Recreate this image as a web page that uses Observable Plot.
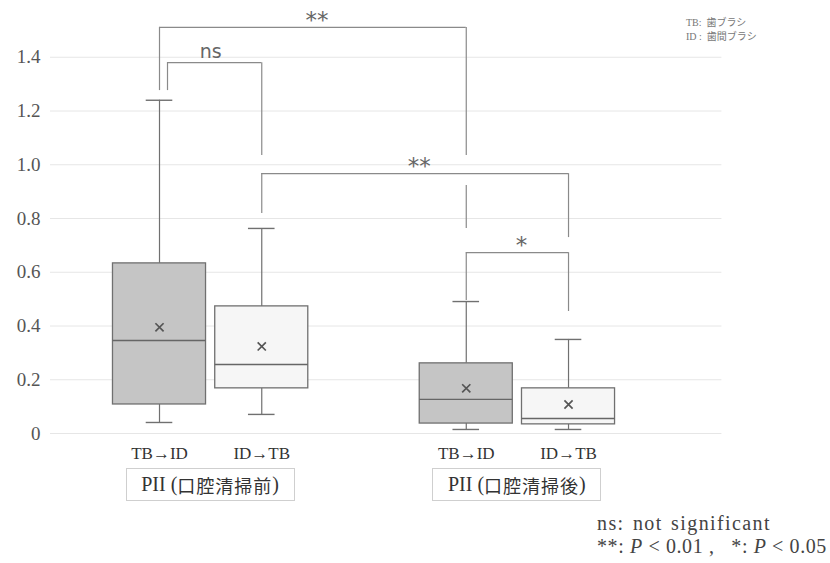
<!DOCTYPE html>
<html>
<head>
<meta charset="utf-8">
<script src="https://cdn.jsdelivr.net/npm/d3@7"></script>
<script src="https://cdn.jsdelivr.net/npm/@observablehq/plot@0.6"></script>
<style>
  html, body { margin: 0; padding: 0; background: #fff; }
  #wrap { position: relative; width: 830px; height: 563px; font-family: "Liberation Serif", "Noto Sans CJK JP", serif; }
  #wrap svg text { font-family: "Liberation Serif", serif; }
  #wrap svg g.sig text { font-family: "DejaVu Sans", sans-serif; }
  .glabel { position: absolute; top: 468px; height: 33px; width: 169px; border: 1px solid #cfcfcf; box-sizing: border-box;
            font-size: 20px; color: #333; display: flex; align-items: center; justify-content: center; white-space: nowrap; }
  .glabel .jp { font-family: "Noto Sans CJK JP", sans-serif; font-size: 18px; letter-spacing: 1px; }
  #legend { position: absolute; left: 686px; top: 16px; font-size: 10px; color: #777; line-height: 14px; white-space: pre; font-family: "Liberation Serif", "Noto Sans CJK JP", serif; }
  #caption { position: absolute; left: 597px; top: 512px; font-size: 20px; color: #444; line-height: 23px; white-space: pre; }
  #caption .l1 { letter-spacing: 1.4px; word-spacing: 2px; }
  #caption .l2 { letter-spacing: 0.6px; }
</style>
</head>
<body>
<div id="wrap"></div>
<script>
// ---- data ----
const categories = ["TB→ID", "ID→TB", "TB→ID", "ID→TB"];
const groupOf = [0, 0, 1, 1];
const groupLabels = [["PII (", "口腔清掃前", ")"], ["PII (", "口腔清掃後", ")"]];
const whiskerLow = [0.041, 0.071, 0.015, 0.015];
const q1 = [0.108, 0.168, 0.037, 0.034];
const median = [0.346, 0.257, 0.127, 0.056];
const q3 = [0.633, 0.473, 0.261, 0.168];
const whiskerHigh = [1.24, 0.763, 0.491, 0.35];
const mean = [0.395, 0.324, 0.168, 0.108];

const yTicks = [0, 0.2, 0.4, 0.6, 0.8, 1.0, 1.2, 1.4];

// significance brackets (box indices, heights in data units)
const bracketFrom = [0, 0, 1, 2];
const bracketTo = [2, 1, 3, 3];
const bracketLabel = ["**", "ns", "**", "*"];
const bracketY = [1.511, 1.380, 0.967, 0.673];
const bracketFromEnd = [1.276, 1.276, 0.819, 0.495];
const bracketToEnd = [0.763, 1.034, 0.729, 0.454];
const bracketToGap = [[1.034, 0.923], null, null, null];

const legendLines = ["TB:  歯ブラシ", "ID :  歯間ブラシ"];
const captionLine1 = "ns: not significant";
const captionLine2 = "**: <i>P</i> &lt; 0.01 ,&nbsp;&nbsp; *: <i>P</i> &lt; 0.05";

// ---- layout ----
const W = 830, H = 465, ML = 50, MR = 108.6, MT = 3, MB = 32;
const xDomain = [-0.066, 6.5];
const pxPerUnit = (W - ML - MR) / (xDomain[1] - xDomain[0]);
const nudge = 8 / pxPerUnit; // nested bracket leg offset

const pos = categories.map((c, i) => groupOf[i] * 3 + (i % 2) + 1);
const boxes = categories.map((c, i) => ({
  cat: c, x: pos[i], lo: whiskerLow[i], q1: q1[i], med: median[i], q3: q3[i], hi: whiskerHigh[i], mean: mean[i],
  dark: c === "TB→ID"
}));
const halfW = 0.455, capW = 0.13;

const legs = [], hbars = [], labels = [];
bracketFrom.forEach((a, k) => {
  const b = bracketTo[k];
  const nested = bracketFrom.some((a2, k2) => k2 < k && a2 === a);
  const xa = pos[a] + (nested ? nudge : 0);
  hbars.push({x1: xa, x2: pos[b], y: bracketY[k]});
  legs.push({x: xa, y1: bracketY[k], y2: bracketFromEnd[k]});
  const gap = bracketToGap[k];
  if (gap) {
    legs.push({x: pos[b], y1: bracketY[k], y2: gap[0]});
    legs.push({x: pos[b], y1: gap[1], y2: bracketToEnd[k]});
  } else {
    legs.push({x: pos[b], y1: bracketY[k], y2: bracketToEnd[k]});
  }
  labels.push({x: (pos[a] + pos[b]) / 2, y: bracketY[k], text: bracketLabel[k], star: bracketLabel[k] !== "ns"});
});

const stroke = "#707070";
const serif = "Liberation Serif, serif";
const sans = "DejaVu Sans, sans-serif";
const plot = Plot.plot({
  width: W, height: H,
  marginLeft: ML, marginRight: MR, marginTop: MT, marginBottom: MB,
  style: {fontFamily: serif, fontSize: "17px", color: "#555", background: "#fff"},
  x: {type: "linear", domain: xDomain, axis: null},
  y: {domain: [0, 1.6], axis: null},
  marks: [
    Plot.gridY(yTicks, {stroke: "#e6e6e6", strokeOpacity: 1}),
    Plot.axisY({ticks: yTicks, tickSize: 0, tickPadding: 10, fontSize: 19, fill: "#555", fontFamily: serif,
      tickFormat: d => d === 0 ? "0" : d.toFixed(1)}),
    Plot.axisX({ticks: pos, tickSize: 0, tickPadding: 13, fontSize: 17, fill: "#333", fontFamily: serif,
      tickFormat: d => categories[pos.indexOf(d)]}),
    // whiskers
    Plot.ruleX(boxes, {x: "x", y1: "lo", y2: "q1", stroke, strokeWidth: 1.2}),
    Plot.ruleX(boxes, {x: "x", y1: "q3", y2: "hi", stroke, strokeWidth: 1.2}),
    Plot.ruleY(boxes, {y: "lo", x1: d => d.x - capW, x2: d => d.x + capW, stroke, strokeWidth: 1.4}),
    Plot.ruleY(boxes, {y: "hi", x1: d => d.x - capW, x2: d => d.x + capW, stroke, strokeWidth: 1.4}),
    // boxes
    Plot.rect(boxes, {x1: d => d.x - halfW, x2: d => d.x + halfW, y1: "q1", y2: "q3",
      fill: d => d.dark ? "#c5c5c5" : "#f6f6f6", stroke, strokeWidth: 1.3}),
    Plot.ruleY(boxes, {y: "med", x1: d => d.x - halfW, x2: d => d.x + halfW, stroke: "#666", strokeWidth: 1.4}),
    Plot.dot(boxes, {x: "x", y: "mean", symbol: "times", r: 3.8, stroke: "#555", strokeWidth: 1.7}),
    // brackets
    Plot.ruleY(hbars, {y: "y", x1: "x1", x2: "x2", stroke: "#8a8a8a", strokeWidth: 1.2}),
    Plot.ruleX(legs, {x: "x", y1: "y1", y2: "y2", stroke: "#8a8a8a", strokeWidth: 1.2}),
    Plot.text(labels.filter(d => d.star), {x: "x", y: "y", text: "text", dy: -7, dx: 4, fontSize: 23,
      fontFamily: sans, fill: "#666", lineAnchor: "middle", className: "sig", letterSpacing: "2px"}),
    Plot.text(labels.filter(d => !d.star), {x: "x", y: "y", text: "text", dy: -11, fontSize: 19,
      fontFamily: sans, fill: "#666", lineAnchor: "middle", className: "sig"})
  ]
});

const wrap = document.getElementById("wrap");
wrap.appendChild(plot);
const xs = plot.scale("x");

// group labels below the chart, centred on each group's boxes
groupLabels.forEach((g, i) => {
  const members = pos.filter((p, j) => groupOf[j] === i);
  const center = xs.apply(d3.mean(members));
  const div = document.createElement("div");
  div.className = "glabel";
  div.style.left = (center - 84.5) + "px";
  div.innerHTML = `${g[0]}<span class="jp">${g[1]}</span>${g[2]}`;
  wrap.appendChild(div);
});

const leg = document.createElement("div");
leg.id = "legend";
leg.textContent = legendLines.join("\n");
wrap.appendChild(leg);

const cap = document.createElement("div");
cap.id = "caption";
cap.innerHTML = `<span class="l1">${captionLine1}</span><br><span class="l2">${captionLine2}</span>`;
wrap.appendChild(cap);
</script>
</body>
</html>
